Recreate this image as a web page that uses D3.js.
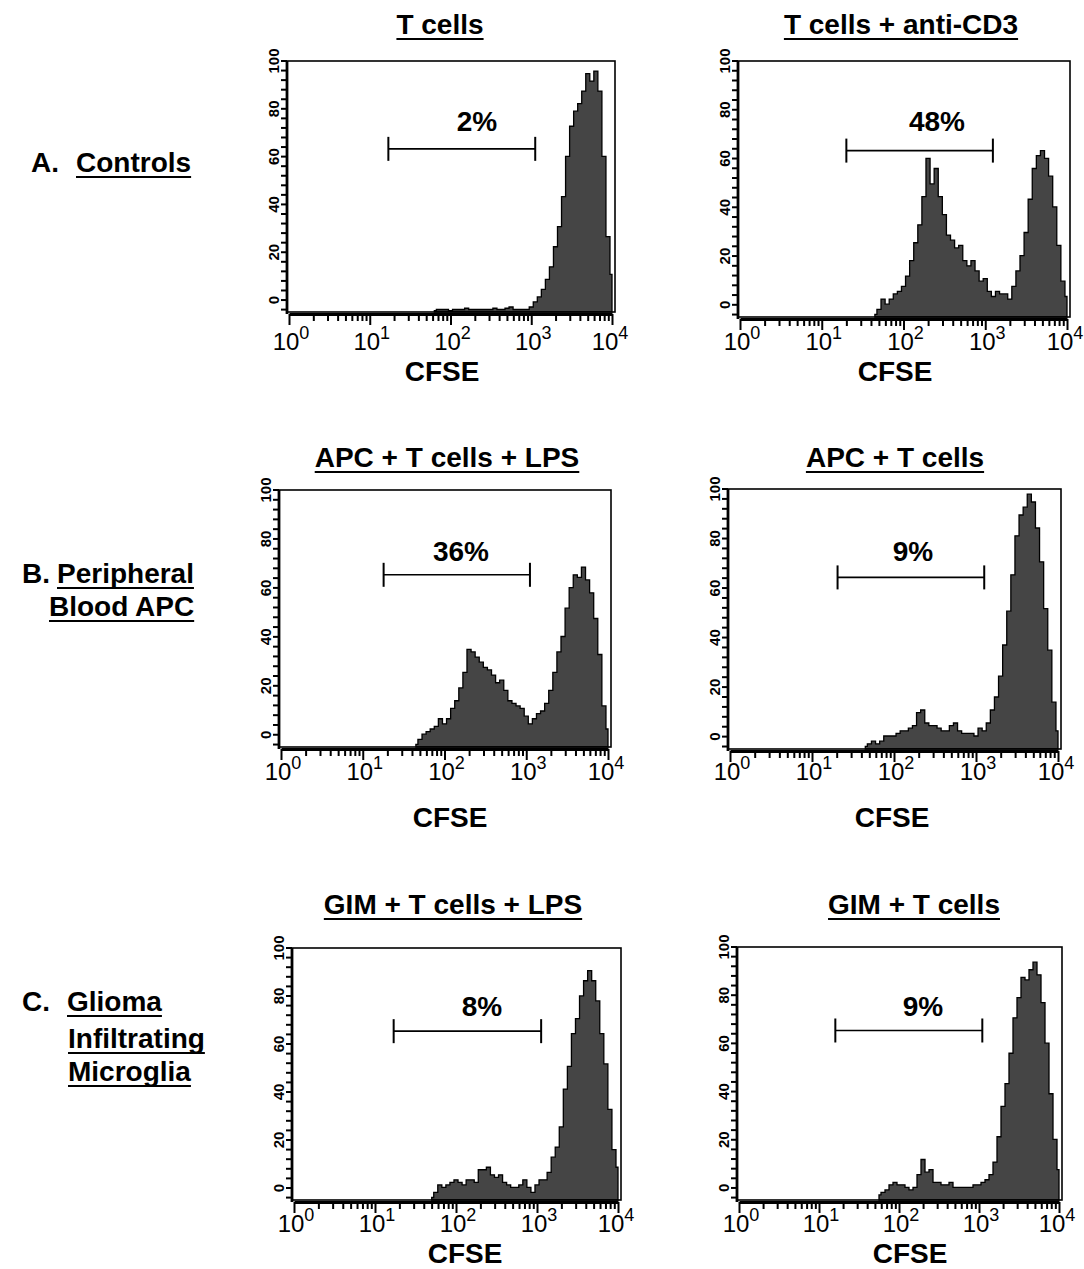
<!DOCTYPE html>
<html>
<head>
<meta charset="utf-8">
<script src="https://cdn.jsdelivr.net/npm/d3@7"></script>
<style>
  body { margin: 0; background: #fff; }
  text { font-family: "Liberation Sans", Arial, Helvetica, sans-serif; fill: #000; }
</style>
</head>
<body>
<div id="chart"></div>
<script>
// panel titles, gate labels and gates (CFSE range, count level)
const titles = ["T cells", "T cells + anti-CD3", "APC + T cells + LPS", "APC + T cells", "GIM + T cells + LPS", "GIM + T cells"];
const percents = ["2%", "48%", "36%", "9%", "8%", "9%"];
const gateLo = [17, 20, 18, 20.5, 17, 16];
const gateHi = [1120, 1240, 1110, 1260, 1125, 1100];
const gateLevel = [65, 65, 67, 66, 67, 67];

// histogram counts, channels every 0.05 log10 units starting at histStart
const binStep = 0.05;
const histStart = [1.80, 1.65, 1.65, 1.65, 1.70, 1.75];
const tCells = [0.5, 1, 1, 1, 0.5, 1, 1, 1, 1.5, 1, 1, 1, 1, 1, 1, 1.5, 1, 1, 1.5, 2, 1, 1, 1, 1, 2, 4, 6, 9, 13, 18, 26, 34, 46, 62, 74, 80, 83, 88, 95, 92, 96, 88, 62, 30, 15];
const tCellsCD3 = [1, 3, 7, 5, 7, 9, 10, 12, 16, 22, 29, 36, 47, 62, 52, 58, 47, 40, 32, 30, 27, 28, 22, 20, 22, 18, 14, 15, 10, 8, 10, 9, 9, 7, 12, 18, 24, 33, 46, 58, 63, 65, 62, 55, 43, 28, 14, 8];
const apcLps = [1, 3, 5, 6, 7, 8, 11, 9, 11, 15, 18, 23, 29, 38, 37, 35, 33, 31, 30, 28, 25, 26, 22, 18, 17, 16, 15, 12, 9, 11, 13, 14, 17, 22, 29, 37, 43, 54, 62, 67, 66, 70, 65, 60, 50, 36, 16, 7];
const apc = [1, 2, 3, 2, 3, 5, 5, 5, 6, 7, 7, 8, 9, 14, 15, 10, 9, 9, 8, 7, 7, 9, 10, 7, 6, 6, 6, 5, 8, 7, 10, 15, 20, 28, 40, 53, 67, 82, 90, 93, 98, 95, 85, 72, 54, 38, 18, 7];
const gimLps = [1, 3, 6, 5, 6, 7, 8, 7, 6, 8, 8, 7, 12, 12, 13, 10, 9, 10, 7, 6, 5, 5, 6, 8, 5, 3, 6, 8, 8, 11, 17, 21, 29, 44, 53, 66, 72, 81, 87, 91, 87, 79, 66, 54, 36, 20, 13];
const gim = [2, 3, 4, 6, 7, 6, 6, 5, 4, 5, 10, 16, 11, 12, 7, 7, 6, 6, 7, 5, 5, 5, 5, 5, 6, 6, 7, 8, 10, 15, 25, 37, 46, 58, 72, 80, 88, 87, 91, 94, 89, 78, 62, 42, 24, 12];
const histograms = [tCells, tCellsCD3, apcLps, apc, gimLps, gim];

// axis labels
const decades = [1, 10, 100, 1000, 10000];
const countTicks = [0, 20, 40, 60, 80, 100];
const rowLetters = ["A.", "B.", "C."];
const rowNames = [["Controls"], ["Peripheral", "Blood APC"], ["Glioma", "Infiltrating", "Microglia"]];

// page layout
const frames = [
  { l: 287, t: 61, r: 615, b: 312, titleX: 440, pctX: 477, cfseX: 442 },
  { l: 738, t: 61, r: 1070, b: 317, titleX: 901, pctX: 937, cfseX: 895 },
  { l: 279, t: 490, r: 611, b: 747, titleX: 447, pctX: 461, cfseX: 450 },
  { l: 728, t: 489, r: 1061, b: 749, titleX: 895, pctX: 913, cfseX: 892 },
  { l: 292, t: 948, r: 621, b: 1200, titleX: 453, pctX: 482, cfseX: 465 },
  { l: 737, t: 947, r: 1062, b: 1200, titleX: 914, pctX: 923, cfseX: 910 }
];
const rowY = [
  { title: 34, pct: 131, tick: 350, cfse: 381 },
  { title: 467, pct: 561, tick: 780, cfse: 827 },
  { title: 914, pct: 1016, tick: 1232, cfse: 1263 }
];
const rowLabelPos = [
  { letterX: 31, nameX: [76], y: [172] },
  { letterX: 22, nameX: [57, 49], y: [583, 616] },
  { letterX: 22, nameX: [67, 68, 68], y: [1011, 1048, 1081] }
];

const svg = d3.select("#chart").append("svg")
  .attr("width", 1084)
  .attr("height", 1269);

function underlined(parent, txt, x, y, anchor) {
  const t = parent.append("text")
    .attr("x", x).attr("y", y)
    .attr("text-anchor", anchor)
    .attr("font-size", 28)
    .attr("font-weight", "bold")
    .text(txt);
  const w = t.node().getComputedTextLength();
  const x1 = anchor == "middle" ? x - w / 2 : x;
  parent.append("line")
    .attr("x1", x1).attr("x2", x1 + w)
    .attr("y1", y + 5).attr("y2", y + 5)
    .attr("stroke", "#000")
    .attr("stroke-width", 2.2);
}

// row labels
rowLetters.forEach((letter, r) => {
  const pos = rowLabelPos[r];
  svg.append("text")
    .attr("x", pos.letterX).attr("y", pos.y[0])
    .attr("font-size", 28).attr("font-weight", "bold")
    .text(letter);
  rowNames[r].forEach((name, k) => underlined(svg, name, pos.nameX[k], pos.y[k], "start"));
});

histograms.forEach((counts, i) => {
  const f = frames[i];
  const row = rowY[Math.floor(i / 2)];
  const g = svg.append("g");

  const x = d3.scaleLog().domain([1, 1e4]).range([f.l + 2, f.r - 3]);
  const y = d3.scaleLinear().domain([0, 100]).range([f.b, f.t]);
  // printed count axis sits a little above the data baseline
  const yAxisScale = d3.scaleLinear().domain([-5, 100]).range([f.b, f.t]);

  underlined(g, titles[i], f.titleX, row.title, "middle");

  // histogram
  const pts = counts.map((c, j) => [Math.pow(10, histStart[i] + j * binStep), c]);
  const area = d3.area()
    .x((d) => x(d[0]))
    .y0(f.b)
    .y1((d) => y(d[1]))
    .curve(d3.curveStep);
  g.append("path")
    .datum(pts)
    .attr("d", area)
    .attr("fill", "#454545")
    .attr("stroke", "#000")
    .attr("stroke-width", 1.3)
    .attr("stroke-linejoin", "miter");

  // frame
  g.append("rect")
    .attr("x", f.l).attr("y", f.t)
    .attr("width", f.r - f.l).attr("height", f.b - f.t)
    .attr("fill", "none")
    .attr("stroke", "#000")
    .attr("stroke-width", 1.6);
  g.append("line")
    .attr("x1", f.l).attr("x2", f.l)
    .attr("y1", f.t).attr("y2", f.b + 2)
    .attr("stroke", "#000").attr("stroke-width", 2.8);

  // y ticks and rotated labels
  g.append("g").selectAll("line")
    .data(d3.range(-4, 101, 4))
    .join("line")
    .attr("x1", f.l - 6).attr("x2", f.l)
    .attr("y1", (d) => yAxisScale(d)).attr("y2", (d) => yAxisScale(d))
    .attr("stroke", "#000").attr("stroke-width", 2);
  g.append("g").selectAll("text")
    .data(countTicks)
    .join("text")
    .attr("transform", (d) => `translate(${f.l - 14},${yAxisScale(d)}) rotate(-90)`)
    .attr("text-anchor", "middle")
    .attr("dominant-baseline", "central")
    .attr("font-size", 15)
    .attr("font-weight", "bold")
    .text((d) => d);

  // log x axis
  const tickVals = [];
  decades.slice(0, 4).forEach((dec) => d3.range(1, 10).forEach((m) => tickVals.push(m * dec)));
  tickVals.push(1e4);
  const xAxis = g.append("g")
    .attr("transform", `translate(0,${f.b + 2})`)
    .call(d3.axisBottom(x).tickValues(tickVals).tickSize(7).tickSizeOuter(0).tickFormat(""));
  xAxis.select(".domain").attr("stroke-width", 2.8);
  xAxis.selectAll(".tick line")
    .attr("stroke-width", 2)
    .attr("y2", (d) => (decades.includes(d) ? 11 : 7));

  decades.forEach((d, k) => {
    const lbl = g.append("text")
      .attr("x", x(d) + (k == 4 ? -2 : 2)).attr("y", row.tick)
      .attr("text-anchor", "middle")
      .attr("font-size", 24);
    lbl.append("tspan").text("10");
    lbl.append("tspan").attr("dy", -11).attr("font-size", 18).text(k);
  });

  g.append("text")
    .attr("x", f.cfseX).attr("y", row.cfse)
    .attr("text-anchor", "middle")
    .attr("font-size", 28).attr("font-weight", "bold")
    .text("CFSE");

  // gate marker
  const gy = y(gateLevel[i]);
  g.append("line")
    .attr("x1", x(gateLo[i])).attr("x2", x(gateHi[i]))
    .attr("y1", gy).attr("y2", gy)
    .attr("stroke", "#000").attr("stroke-width", 1.6);
  g.append("g").selectAll("line")
    .data([gateLo[i], gateHi[i]])
    .join("line")
    .attr("x1", (d) => x(d)).attr("x2", (d) => x(d))
    .attr("y1", gy - 12).attr("y2", gy + 12)
    .attr("stroke", "#000").attr("stroke-width", 2);
  g.append("text")
    .attr("x", f.pctX).attr("y", row.pct)
    .attr("text-anchor", "middle")
    .attr("font-size", 28).attr("font-weight", "bold")
    .text(percents[i]);
});
</script>
</body>
</html>
